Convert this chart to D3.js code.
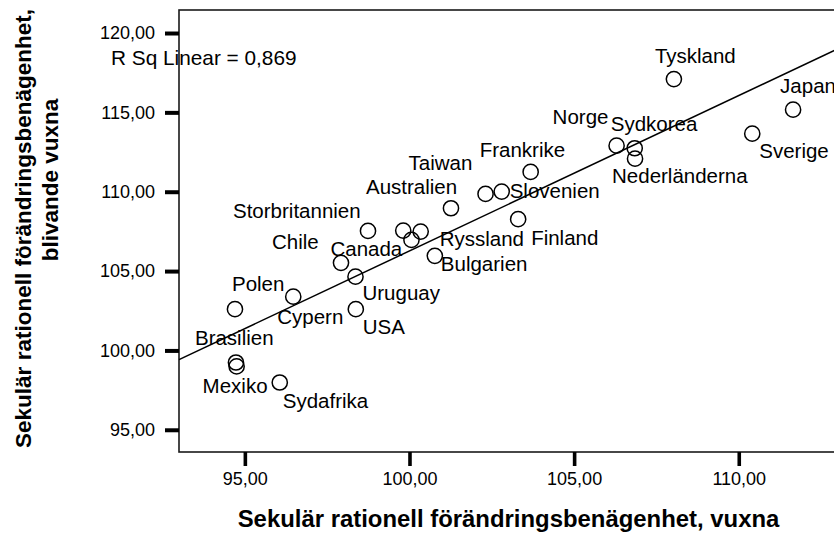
<!DOCTYPE html>
<html>
<head>
<meta charset="utf-8">
<script src="https://cdn.jsdelivr.net/npm/d3@7"></script>
<style>
  html, body { margin: 0; padding: 0; background: #fff; }
  svg { display: block; font-family: "Liberation Sans", Arial, sans-serif; }
</style>
</head>
<body>
<svg id="chart" width="834" height="535"></svg>
<script>
// ---- data ----
const countries = ["Tyskland","Japan","Norge","Sydkorea","Sverige","Nederländerna","Frankrike",
  "Taiwan","Slovenien","Australien","Finland","","Ryssland","Canada","Storbritannien","Chile",
  "Bulgarien","Uruguay","USA","Polen","Cypern","Brasilien","Mexiko","Sydafrika"];
const xValues = [108.03,111.65,106.29,106.84,110.41,106.85,103.68,
  102.31,102.80,101.26,103.30,99.81,100.34,100.06,98.74,97.92,
  100.77,98.36,98.37,94.70,96.47,94.73,94.75,96.06];
const yValues = [117.10,115.17,112.90,112.74,113.66,112.08,111.25,
  109.86,110.01,108.96,108.27,107.55,107.49,106.96,107.53,105.52,
  105.96,104.65,102.60,102.60,103.39,99.24,98.99,97.98];
const xTicks = [95,100,105,110];
const yTicks = [95,100,105,110,115,120];
const fitIntercept = 8.37;
const fitSlope = 0.979;
const rSquaredText = "R Sq Linear = 0,869";
const xTitle = "Sekulär rationell förändringsbenägenhet, vuxna";
const yTitleLines = ["Sekulär rationell förändringsbenägenhet,", "blivande vuxna"];

// ---- layout (label placement relative to its point, in px) ----
const labelOffsets = {
  "Tyskland":[-19,-16], "Japan":[-13,-17], "Norge":[-64,-22], "Sydkorea":[-24,-17],
  "Sverige":[7,24], "Nederländerna":[-23,24], "Frankrike":[-51,-15], "Taiwan":[-77,-24],
  "Slovenien":[8,6], "Australien":[-85,-14], "Finland":[13,26], "Ryssland":[19,14],
  "Canada":[-81,16], "Storbritannien":[-135,-13], "Chile":[-69,-14], "Bulgarien":[6,15],
  "Uruguay":[7,23], "USA":[7,25], "Polen":[-3,-18], "Cypern":[-16,27],
  "Brasilien":[-41,-17], "Mexiko":[-34,27], "Sydafrika":[3,26]
};

const locale = d3.formatLocale({decimal: ",", thousands: ".", grouping: [3], currency: ["", ""]});
const fmt = locale.format(".2f");

const svg = d3.select("#chart");
const plot = {left: 179, right: 854, top: 10, bottom: 452};

const x = d3.scaleLinear().domain([93.0, 113.5]).range([plot.left, plot.right]);
const y = d3.scaleLinear().domain([93.6, 121.45]).range([plot.bottom, plot.top]);

// frame
svg.append("rect")
  .attr("x", plot.left).attr("y", plot.top)
  .attr("width", plot.right - plot.left).attr("height", plot.bottom - plot.top)
  .attr("fill", "none").attr("stroke", "#1a1a1a").attr("stroke-width", 1.6);

// y axis
const yAxis = d3.axisLeft(y).tickValues(yTicks).tickFormat(fmt).tickSize(14).tickPadding(10);
const gy = svg.append("g").attr("transform", `translate(${plot.left},0)`).call(yAxis);
gy.select(".domain").remove();
gy.selectAll(".tick line").attr("stroke", "#000").attr("stroke-width", 4);
gy.selectAll(".tick text").attr("font-size", 18).attr("fill", "#000")
  .attr("font-family", "'Liberation Sans', Arial, sans-serif");

// x axis
const xAxis = d3.axisBottom(x).tickValues(xTicks).tickFormat(fmt).tickSize(14).tickPadding(6);
const gx = svg.append("g").attr("transform", `translate(0,${plot.bottom})`).call(xAxis);
gx.select(".domain").remove();
gx.selectAll(".tick line").attr("stroke", "#000").attr("stroke-width", 3.6);
gx.selectAll(".tick text").attr("font-size", 18).attr("fill", "#000")
  .attr("font-family", "'Liberation Sans', Arial, sans-serif");

// fit line
const lineX = x.domain();
svg.append("line")
  .attr("x1", x(lineX[0])).attr("y1", y(fitIntercept + fitSlope * lineX[0]))
  .attr("x2", x(lineX[1])).attr("y2", y(fitIntercept + fitSlope * lineX[1]))
  .attr("stroke", "#000").attr("stroke-width", 1.5);

// points
const pts = countries.map((c, i) => ({name: c, x: xValues[i], y: yValues[i]}));
svg.append("g").selectAll("circle").data(pts).join("circle")
  .attr("cx", d => x(d.x)).attr("cy", d => y(d.y)).attr("r", 7.6)
  .attr("fill", "none").attr("stroke", "#000").attr("stroke-width", 1.5);

// labels
svg.append("g").selectAll("text").data(pts.filter(d => d.name)).join("text")
  .attr("x", d => x(d.x) + labelOffsets[d.name][0])
  .attr("y", d => y(d.y) + labelOffsets[d.name][1])
  .attr("font-size", 20.5).attr("fill", "#000")
  .text(d => d.name);

// R squared annotation
svg.append("text").attr("x", 111).attr("y", 65)
  .attr("font-size", 20.8).attr("fill", "#000").text(rSquaredText);

// axis titles
svg.append("text").attr("x", 508.5).attr("y", 527)
  .attr("text-anchor", "middle").attr("font-weight", "bold").attr("font-size", 23.9)
  .attr("fill", "#000").text(xTitle);

svg.append("text").attr("transform", "translate(31,228.5) rotate(-90)")
  .attr("text-anchor", "middle").attr("font-weight", "bold").attr("font-size", 22.5)
  .attr("fill", "#000").text(yTitleLines[0]);
svg.append("text").attr("transform", "translate(58,180) rotate(-90)")
  .attr("text-anchor", "middle").attr("font-weight", "bold").attr("font-size", 22.5)
  .attr("fill", "#000").text(yTitleLines[1]);
</script>
</body>
</html>
